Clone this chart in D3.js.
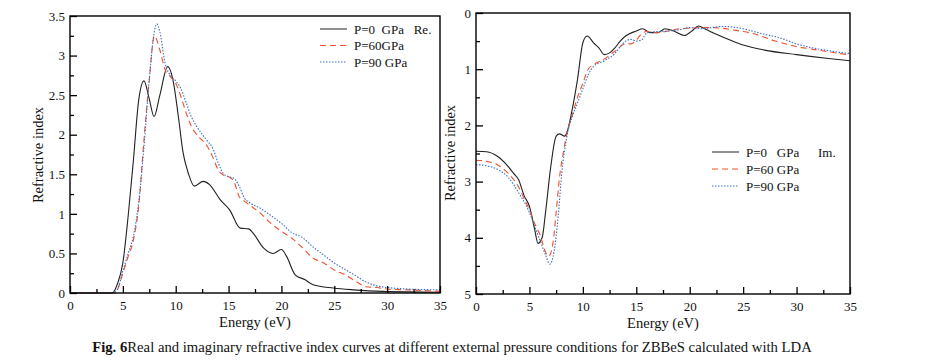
<!DOCTYPE html>
<html><head><meta charset="utf-8">
<script src="https://cdn.jsdelivr.net/npm/d3@7"></script>
<style>body{margin:0;background:#fff}svg{display:block}svg text{font-family:"Liberation Serif","Times New Roman",serif !important;fill:#111}</style>
</head><body><svg id="c" width="926" height="362"></svg>
<script>
// ---- data ----
const reE0  = [0,4.0,4.5,5.0,5.5,6.0,6.5,7.0,7.5,7.95,8.5,9.24,9.8,10.25,10.7,11.2,11.76,12.6,13.2,14.2,15.1,16.1,16.9,17.3,18.3,19.2,20.0,20.5,21.3,22.2,23,24.9,26.8,29.6,35];
const reN0  = [0,0,0.12,0.38,0.97,1.68,2.44,2.68,2.45,2.23,2.5,2.86,2.65,2.23,1.77,1.51,1.35,1.41,1.37,1.18,1.05,0.82,0.81,0.76,0.57,0.50,0.55,0.46,0.23,0.17,0.105,0.063,0.04,0.02,0.01];
const reE60 = [0,4.3,4.6,5,5.5,6,6.5,7,7.5,7.98,8.5,9,9.5,10,10.5,11,11.5,12,13,13.5,14,14.5,15,15.5,16,16.5,17,18,19,20,21,22,23,24,25,26,27,28,29,30,32,35];
const reN60 = [0,0,0.08,0.25,0.46,0.67,1.1,1.94,2.69,3.25,3.07,2.82,2.73,2.65,2.48,2.27,2.1,2.0,1.85,1.72,1.56,1.49,1.47,1.41,1.22,1.16,1.11,1.01,0.88,0.78,0.69,0.57,0.44,0.38,0.29,0.23,0.15,0.08,0.07,0.05,0.04,0.02];
const reE90 = [0,3.9,4.5,5,5.5,6,6.5,7,7.5,8,8.2,8.5,9,9.5,10,10.5,11,11.5,12,13,13.5,14,14.5,15,15.5,16,16.5,17,18,19,20,21,22,23,24,25,26,27,28,29,30,32,35];
const reN90 = [0,0,0.05,0.28,0.5,0.72,1.15,1.85,2.7,3.32,3.40,3.3,2.9,2.75,2.68,2.58,2.4,2.22,2.1,1.92,1.83,1.65,1.51,1.47,1.45,1.35,1.2,1.14,1.07,0.98,0.88,0.76,0.7,0.58,0.48,0.38,0.3,0.22,0.14,0.09,0.07,0.05,0.04];

const imE0  = [0,1,2,3,3.5,4,4.5,5,5.5,5.8,6.2,6.5,7,7.5,7.8,8.3,8.5,9,9.5,10,10.4,11,11.5,12,12.5,13,13.5,14,15,15.6,16.3,17,17.7,18.5,19.5,20.2,20.8,21.5,22.5,24,25,27,30,33,35];
const imK0  = [2.46,2.47,2.55,2.73,2.85,2.97,3.25,3.44,3.86,4.1,3.99,3.56,2.73,2.19,2.15,2.19,2.13,1.72,1.18,0.53,0.41,0.53,0.62,0.74,0.71,0.62,0.5,0.41,0.32,0.28,0.35,0.35,0.28,0.32,0.40,0.32,0.23,0.29,0.38,0.5,0.57,0.66,0.74,0.81,0.85];
const imE60 = [0,1,2,3,4,4.5,5,5.5,6,6.5,6.8,7.2,7.5,7.8,8.2,8.5,9,9.5,10,10.5,11,12,13,14,14.5,15,15.5,16,17,18,19,20,21,22,23,24,25,26,27,28,29,30,31,32,33,34,35];
const imK60 = [2.62,2.64,2.7,2.85,3.1,3.3,3.5,3.75,3.95,4.25,4.33,4.1,3.55,2.95,2.45,2.15,1.82,1.5,1.25,1.0,0.92,0.82,0.68,0.55,0.55,0.48,0.37,0.33,0.35,0.32,0.28,0.27,0.26,0.26,0.27,0.30,0.33,0.37,0.43,0.5,0.55,0.6,0.63,0.66,0.69,0.72,0.75];
const imE90 = [0,1,2,3,4,5,5.5,6,6.5,6.9,7.3,7.7,8.0,8.5,9,9.5,10,10.5,11,12,13,13.5,14,14.5,15,15.5,16,17,18,19,20,21,22,23,24,25,26,27,28,29,30,31,32,33,34,35];
const imK90 = [2.7,2.72,2.78,2.92,3.2,3.55,3.8,4.05,4.3,4.47,4.25,3.6,2.9,2.2,1.85,1.6,1.35,1.1,0.95,0.85,0.72,0.6,0.5,0.47,0.5,0.48,0.35,0.33,0.32,0.3,0.26,0.28,0.26,0.24,0.25,0.28,0.33,0.38,0.42,0.48,0.55,0.6,0.64,0.67,0.7,0.72];

const xTicks = [0,5,10,15,20,25,30,35];
const reYTicks = [0,0.5,1,1.5,2,2.5,3,3.5];
const imYTicks = [0,1,2,3,4,5];
const legendRe = ["P=0  GPa   Re.","P=60GPa","P=90 GPa"];
const legendIm = ["P=0   GPa","P=60 GPa","P=90 GPa"];

const FONT = '"Liberation Serif","Times New Roman",serif';
const styles = [
  {stroke:"#222", dash:null, w:1.1},
  {stroke:"#f0502a", dash:"6,4", w:1.1},
  {stroke:"#3a6fc4", dash:"1.5,1.5", w:1.1}
];

const svg = d3.select("#c");

function panel(o){
  const x = d3.scaleLinear().domain([0,35]).range([o.x0,o.x1]);
  const y = d3.scaleLinear().domain(o.ydom).range(o.yrange);
  const g = svg.append("g");
  const line = d3.line().x(d=>x(d[0])).y(d=>y(d[1])).curve(d3.curveMonotoneX);
  o.series.forEach((s,i)=>{
    g.append("path").attr("d", line(s[0].map((e,j)=>[e,s[1][j]])))
      .attr("fill","none").attr("stroke",styles[i].stroke).attr("stroke-width",styles[i].w)
      .attr("stroke-dasharray",styles[i].dash);
  });
  g.append("rect").attr("x",o.x0).attr("y",Math.min(...o.yrange)).attr("width",o.x1-o.x0)
    .attr("height",Math.abs(o.yrange[0]-o.yrange[1])).attr("fill","none").attr("stroke","#000").attr("stroke-width",1.4);
  const bottom = Math.max(...o.yrange);
  const xa = d3.axisBottom(x).tickValues(xTicks).tickSize(-7).tickPadding(5).tickFormat(d3.format("d"));
  const gx = g.append("g").attr("transform",`translate(0,${bottom})`).call(xa).attr("font-family",FONT).attr("font-size",13);
  gx.select(".domain").remove();
  gx.selectAll("text").attr("dy","0.95em");
  const xm = d3.axisBottom(x).tickValues(d3.range(2.5,35,5)).tickSize(-4).tickFormat("");
  g.append("g").attr("transform",`translate(0,${bottom})`).call(xm).select(".domain").remove();
  const ya = d3.axisLeft(y).tickValues(o.yticks).tickSize(-7).tickPadding(5).tickFormat(d=>String(d));
  const gy = g.append("g").attr("transform",`translate(${o.x0},0)`).call(ya).attr("font-family",FONT).attr("font-size",13);
  gy.select(".domain").remove();
  const ym = d3.axisLeft(y).tickValues(o.yminor).tickSize(-4).tickFormat("");
  g.append("g").attr("transform",`translate(${o.x0},0)`).call(ym).select(".domain").remove();
  g.selectAll(".tick line").attr("stroke","#000").attr("stroke-width",1.3);
  g.append("text").attr("x",(o.x0+o.x1)/2).attr("y",bottom+34).attr("text-anchor","middle")
    .attr("font-family",FONT).attr("font-size",14.5).text("Energy (eV)");
  g.append("text").attr("transform",`translate(${o.ylx},${o.yly}) rotate(-90)`).attr("text-anchor","middle")
    .attr("font-family",FONT).attr("font-size",14.5).text("Refractive index");
  o.legend.forEach((t,i)=>{
    const yy = o.ly + i*o.lstep;
    g.append("line").attr("x1",o.lx).attr("x2",o.lx+27).attr("y1",yy).attr("y2",yy)
      .attr("stroke",styles[i].stroke).attr("stroke-width",1).attr("stroke-dasharray",styles[i].dash);
    g.append("text").attr("x",o.lx+34).attr("y",yy+4.5).attr("font-family",FONT).attr("font-size",13)
      .attr("xml:space","preserve").style("white-space","pre").text(t);
  });
  if(o.extra) g.append("text").attr("x",o.extra[1]).attr("y",o.ly+4.5).attr("font-family",FONT).attr("font-size",13).text(o.extra[0]);
}

panel({x0:70,x1:440,ydom:[0,3.5],yrange:[293,16],yticks:reYTicks,yminor:d3.range(0.25,3.5,0.5),
  series:[[reE0,reN0],[reE60,reN60],[reE90,reN90]],ylx:43,yly:155,
  legend:legendRe,lx:320,ly:29,lstep:16.5});
panel({x0:476,x1:850,ydom:[0,5],yrange:[13,294],yticks:imYTicks,yminor:d3.range(0.5,5,1),
  series:[[imE0,imK0],[imE60,imK60],[imE90,imK90]],ylx:455,yly:153,
  legend:legendIm,lx:712,ly:152,lstep:17,extra:["Im.",818]});

// caption
const cap = svg.append("text").attr("x",452).attr("y",352).attr("text-anchor","middle")
  .attr("font-family",FONT).attr("font-size",13);
cap.append("tspan").attr("font-weight","bold").text("Fig. 6");
cap.append("tspan").text("Real and imaginary refractive index curves at different external pressure conditions for ZBBeS calculated with LDA");
const w = cap.node().getComputedTextLength();
cap.attr("font-size", 13*720/w);
</script></body></html>
